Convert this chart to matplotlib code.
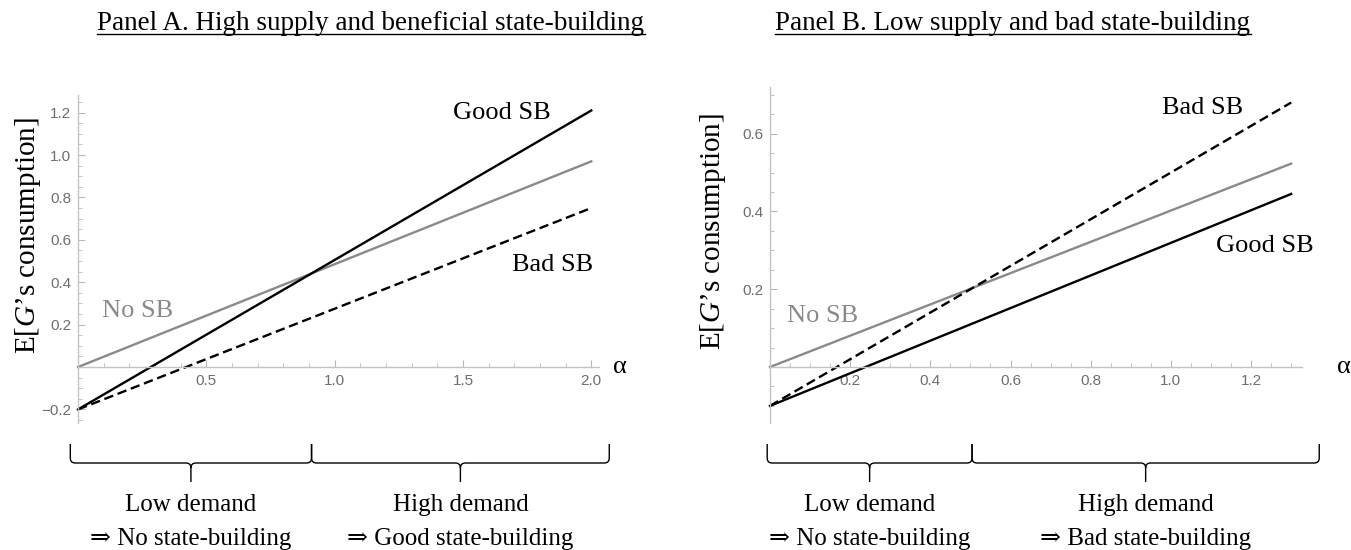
import matplotlib
matplotlib.use('Agg')
import matplotlib.pyplot as plt
from matplotlib.path import Path
from matplotlib.patches import PathPatch
from matplotlib.lines import Line2D
from matplotlib.ticker import FixedLocator, MultipleLocator, FuncFormatter

plt.rcParams['font.family'] = ['Liberation Serif', 'DejaVu Serif']
plt.rcParams['mathtext.fontset'] = 'custom'
plt.rcParams['mathtext.rm'] = 'Liberation Serif'
plt.rcParams['mathtext.it'] = 'Liberation Serif:italic'

# panel A: high supply, beneficial state-building
alpha_a = [0.0, 2.0]
no_sb_a = [0.0, 0.97]
good_sb_a = [-0.2, 1.21]
bad_sb_a = [-0.2, 0.75]
threshold_a = 0.91

# panel B: low supply, bad state-building
alpha_b = [0.0, 1.3]
no_sb_b = [0.0, 0.523]
good_sb_b = [-0.1, 0.445]
bad_sb_b = [-0.1, 0.68]
threshold_b = 0.504

x_ticks_a = [0.5, 1.0, 1.5, 2.0]
y_ticks_a = [-0.2, 0.2, 0.4, 0.6, 0.8, 1.0, 1.2]
x_ticks_b = [0.2, 0.4, 0.6, 0.8, 1.0, 1.2]
y_ticks_b = [0.2, 0.4, 0.6]

title_a = 'Panel A. High supply and beneficial state-building'
title_b = 'Panel B. Low supply and bad state-building'
demand_labels = ['Low demand', 'High demand']
outcomes_a = ['\u21d2 No state-building', '\u21d2 Good state-building']
outcomes_b = ['\u21d2 No state-building', '\u21d2 Bad state-building']

W, H = 1351, 550
fig = plt.figure(figsize=(W / 100, H / 100), dpi=100)

ax_a = fig.add_axes([78 / W, 1 - 423 / H, (599 - 78) / W, (423 - 95) / H])
ax_b = fig.add_axes([770 / W, 1 - 423 / H, (1302 - 770) / W, (423 - 87) / H])

tick_fmt = FuncFormatter(lambda v, pos: ('%.1f' % v).replace('-', '\u2212'))


def style_axes(ax, xlim, ylim, xticks, yticks, xminor, yminor):
    ax.set_xlim(xlim)
    ax.set_ylim(ylim)
    for s in ['top', 'right']:
        ax.spines[s].set_visible(False)
    for s in ['left', 'bottom']:
        ax.spines[s].set_position(('data', 0))
        ax.spines[s].set_color('#c4c4c4')
        ax.spines[s].set_linewidth(1.0)
    ax.xaxis.set_major_locator(FixedLocator(xticks))
    ax.yaxis.set_major_locator(FixedLocator(yticks))
    ax.xaxis.set_minor_locator(MultipleLocator(xminor))
    ax.yaxis.set_minor_locator(MultipleLocator(yminor))
    ax.xaxis.set_major_formatter(tick_fmt)
    ax.yaxis.set_major_formatter(tick_fmt)
    ax.tick_params(which='both', direction='in', color='#b8b8b8',
                   labelcolor='#6e6e6e', labelsize=11, pad=5)
    ax.tick_params(which='major', length=5, width=0.8)
    ax.tick_params(which='minor', length=3, width=0.6)
    for lab in ax.get_xticklabels() + ax.get_yticklabels():
        lab.set_fontfamily(['Liberation Sans', 'DejaVu Sans'])
    ax.patch.set_visible(False)


style_axes(ax_a, (0, 2.03), (-0.264, 1.283), x_ticks_a, y_ticks_a, 0.1, 0.05)
style_axes(ax_b, (0, 1.327), (-0.144, 0.72), x_ticks_b, y_ticks_b, 0.05, 0.05)

lw = 1.7
dash = (0, (4, 2))
ax_a.plot(alpha_a, no_sb_a, color='#8a8a8a', lw=lw, clip_on=False)
ax_a.plot(alpha_a, good_sb_a, color='black', lw=lw, clip_on=False)
ax_a.plot(alpha_a, bad_sb_a, color='black', lw=lw, ls=dash, clip_on=False)
ax_b.plot(alpha_b, no_sb_b, color='#8a8a8a', lw=lw, clip_on=False)
ax_b.plot(alpha_b, good_sb_b, color='black', lw=lw, clip_on=False)
ax_b.plot(alpha_b, bad_sb_b, color='black', lw=lw, ls=dash, clip_on=False)

fs = 19
ax_a.text(1.65, 1.198, 'Good SB', fontsize=fs, ha='center', va='center')
ax_a.text(1.85, 0.481, 'Bad SB', fontsize=fs, ha='center', va='center')
ax_a.text(0.234, 0.264, 'No SB', fontsize=fs, ha='center', va='center', color='#8a8a8a')
ax_b.text(1.08, 0.667, 'Bad SB', fontsize=fs, ha='center', va='center')
ax_b.text(1.234, 0.312, 'Good SB', fontsize=fs, ha='center', va='center')
ax_b.text(0.132, 0.131, 'No SB', fontsize=fs, ha='center', va='center', color='#8a8a8a')

ax_a.text(2.11, 0.0, '\u03b1', fontsize=fs, ha='center', va='center', clip_on=False)
ax_b.text(1.431, 0.0, '\u03b1', fontsize=fs, ha='center', va='center', clip_on=False)

ylabel = 'E[$G$\u2019s consumption]'
fig.text(28 / W, 1 - 236 / H, ylabel, fontsize=21, rotation=90, ha='center', va='center')
fig.text(713 / W, 1 - 232 / H, ylabel, fontsize=21, rotation=90, ha='center', va='center')


def brace(ax, xa, xb, y_top=444, y_mid=463, y_tip=482, r=5):
    # curly brace under the axes: x in data units, y in pixels from the top
    pa = ax.transData.transform((xa, 0))[0] / W
    pb = ax.transData.transform((xb, 0))[0] / W
    pm = (pa + pb) / 2
    yt, yh, yp = 1 - y_top / H, 1 - y_mid / H, 1 - y_tip / H
    rx, ry = r / W, r / H
    verts = [(pa, yt), (pa, yh + ry), (pa, yh), (pa + rx, yh),
             (pm - rx, yh), (pm, yh), (pm, yh - ry), (pm, yp),
             (pb, yt), (pb, yh + ry), (pb, yh), (pb - rx, yh),
             (pm + rx, yh), (pm, yh), (pm, yh - ry)]
    codes = [Path.MOVETO, Path.LINETO, Path.CURVE3, Path.CURVE3,
             Path.LINETO, Path.CURVE3, Path.CURVE3, Path.LINETO,
             Path.MOVETO, Path.LINETO, Path.CURVE3, Path.CURVE3,
             Path.LINETO, Path.CURVE3, Path.CURVE3]
    fig.add_artist(PathPatch(Path(verts, codes), facecolor='none', edgecolor='black',
                             lw=1.0, transform=fig.transFigure))
    return pm


def demand_block(ax, xs, outcomes):
    for i in range(2):
        xm = brace(ax, xs[i], xs[i + 1])
        fig.text(xm, 1 - 511 / H, demand_labels[i], fontsize=18, ha='center', va='baseline')
        fig.text(xm, 1 - 545 / H, outcomes[i], fontsize=18, ha='center', va='baseline')


demand_block(ax_a, [-0.03, threshold_a, 2.07], outcomes_a)
demand_block(ax_b, [-0.007, threshold_b, 1.37], outcomes_b)

t_a = fig.text(371 / W, 1 - 30 / H, title_a, fontsize=19.5, ha='center', va='baseline')
t_b = fig.text(1013 / W, 1 - 30 / H, title_b, fontsize=19.5, ha='center', va='baseline')

fig.canvas.draw()
renderer = fig.canvas.get_renderer()
for t in [t_a, t_b]:
    bb = t.get_window_extent(renderer)
    fig.add_artist(Line2D([bb.x0 / W, bb.x1 / W], [1 - 34 / H, 1 - 34 / H],
                          color='black', lw=1.0, transform=fig.transFigure))

fig.savefig('out.png', dpi=100)
